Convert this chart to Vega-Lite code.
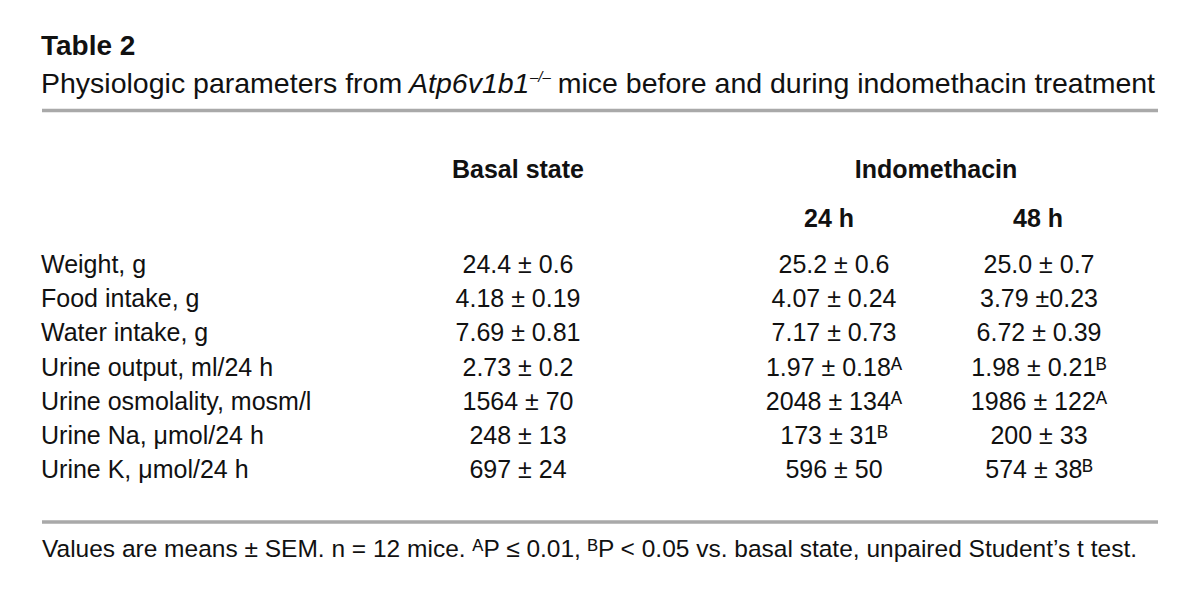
{
  "$schema": "https://vega.github.io/schema/vega-lite/v6.json",
  "width": 1200,
  "height": 615,
  "padding": 0,
  "autosize": {"type": "fit", "contains": "padding"},
  "background": "white",
  "config": {
    "view": {"stroke": null},
    "text": {"font": "Liberation Sans", "fill": "#111111", "baseline": "alphabetic"}
  },
  "datasets": {
    "rows": [
      {"param": "Weight, g", "basal": "24.4 ± 0.6", "h24": "25.2 ± 0.6", "h48": "25.0 ± 0.7"},
      {"param": "Food intake, g", "basal": "4.18 ± 0.19", "h24": "4.07 ± 0.24", "h48": "3.79 ±0.23"},
      {"param": "Water intake, g", "basal": "7.69 ± 0.81", "h24": "7.17 ± 0.73", "h48": "6.72 ± 0.39"},
      {"param": "Urine output, ml/24 h", "basal": "2.73 ± 0.2", "h24": "1.97 ± 0.18ᴬ", "h48": "1.98 ± 0.21ᴮ"},
      {"param": "Urine osmolality, mosm/l", "basal": "1564 ± 70", "h24": "2048 ± 134ᴬ", "h48": "1986 ± 122ᴬ"},
      {"param": "Urine Na, μmol/24 h", "basal": "248 ± 13", "h24": "173 ± 31ᴮ", "h48": "200 ± 33"},
      {"param": "Urine K, μmol/24 h", "basal": "697 ± 24", "h24": "596 ± 50", "h48": "574 ± 38ᴮ"}
    ],
    "one": [{}]
  },
  "resolve": {"scale": {"y": "independent"}},
  "layer": [
    {
      "data": {"name": "one"},
      "layer": [
        {
          "mark": {"type": "text", "align": "left", "fontSize": 28, "fontWeight": "bold"},
          "encoding": {
            "x": {"datum": 41, "type": "quantitative", "scale": {"domain": [0, 1200], "nice": false, "zero": false}, "axis": null},
            "y": {"datum": 55, "type": "quantitative", "scale": {"domain": [0, 615], "nice": false, "zero": false, "reverse": true}, "axis": null},
            "text": {"value": "Table 2"}
          }
        },
        {
          "mark": {"type": "text", "align": "left", "fontSize": 28.5},
          "encoding": {
            "x": {"datum": 41, "type": "quantitative"},
            "y": {"datum": 93, "type": "quantitative"},
            "text": {"value": "Physiologic parameters from"}
          }
        },
        {
          "mark": {"type": "text", "align": "left", "fontSize": 28.5, "fontStyle": "italic"},
          "encoding": {
            "x": {"datum": 409, "type": "quantitative"},
            "y": {"datum": 93, "type": "quantitative"},
            "text": {"value": "Atp6v1b1"}
          }
        },
        {
          "mark": {"type": "text", "align": "left", "fontSize": 15, "fontStyle": "italic"},
          "encoding": {
            "x": {"datum": 530, "type": "quantitative"},
            "y": {"datum": 82, "type": "quantitative"},
            "text": {"value": "–/–"}
          }
        },
        {
          "mark": {"type": "text", "align": "right", "fontSize": 28.5},
          "encoding": {
            "x": {"datum": 1155, "type": "quantitative"},
            "y": {"datum": 93, "type": "quantitative"},
            "text": {"value": "mice before and during indomethacin treatment"}
          }
        },
        {
          "mark": {"type": "rule", "stroke": "#a9a9a9", "strokeWidth": 3.5},
          "encoding": {
            "x": {"datum": 42, "type": "quantitative"},
            "x2": {"datum": 1158},
            "y": {"datum": 110.5, "type": "quantitative"}
          }
        },
        {
          "mark": {"type": "rule", "stroke": "#a9a9a9", "strokeWidth": 3.5},
          "encoding": {
            "x": {"datum": 42, "type": "quantitative"},
            "x2": {"datum": 1158},
            "y": {"datum": 522, "type": "quantitative"}
          }
        },
        {
          "mark": {"type": "text", "align": "center", "fontSize": 25, "fontWeight": "bold"},
          "encoding": {
            "x": {"datum": 518, "type": "quantitative"},
            "y": {"datum": 178, "type": "quantitative"},
            "text": {"value": "Basal state"}
          }
        },
        {
          "mark": {"type": "text", "align": "center", "fontSize": 25, "fontWeight": "bold"},
          "encoding": {
            "x": {"datum": 936, "type": "quantitative"},
            "y": {"datum": 178, "type": "quantitative"},
            "text": {"value": "Indomethacin"}
          }
        },
        {
          "mark": {"type": "text", "align": "center", "fontSize": 25, "fontWeight": "bold"},
          "encoding": {
            "x": {"datum": 829, "type": "quantitative"},
            "y": {"datum": 227, "type": "quantitative"},
            "text": {"value": "24 h"}
          }
        },
        {
          "mark": {"type": "text", "align": "center", "fontSize": 25, "fontWeight": "bold"},
          "encoding": {
            "x": {"datum": 1038, "type": "quantitative"},
            "y": {"datum": 227, "type": "quantitative"},
            "text": {"value": "48 h"}
          }
        },
        {
          "mark": {"type": "text", "align": "left", "fontSize": 24.5},
          "encoding": {
            "x": {"datum": 42, "type": "quantitative"},
            "y": {"datum": 557, "type": "quantitative"},
            "text": {"value": "Values are means ± SEM. n = 12 mice. ᴬP ≤ 0.01, ᴮP < 0.05 vs. basal state, unpaired Student’s t test."}
          }
        }
      ]
    },
    {
      "data": {"name": "rows"},
      "layer": [
        {
          "mark": {"type": "text", "align": "left", "fontSize": 25},
          "encoding": {
            "x": {"datum": 41, "type": "quantitative"},
            "y": {"field": "param", "type": "ordinal", "sort": null, "scale": {"type": "point", "range": [273, 478], "padding": 0}, "axis": null},
            "text": {"field": "param"}
          }
        },
        {
          "mark": {"type": "text", "align": "center", "fontSize": 25},
          "encoding": {
            "x": {"datum": 518, "type": "quantitative"},
            "y": {"field": "param", "type": "ordinal", "sort": null},
            "text": {"field": "basal"}
          }
        },
        {
          "mark": {"type": "text", "align": "center", "fontSize": 25},
          "encoding": {
            "x": {"datum": 834, "type": "quantitative"},
            "y": {"field": "param", "type": "ordinal", "sort": null},
            "text": {"field": "h24"}
          }
        },
        {
          "mark": {"type": "text", "align": "center", "fontSize": 25},
          "encoding": {
            "x": {"datum": 1039, "type": "quantitative"},
            "y": {"field": "param", "type": "ordinal", "sort": null},
            "text": {"field": "h48"}
          }
        }
      ]
    }
  ]
}
